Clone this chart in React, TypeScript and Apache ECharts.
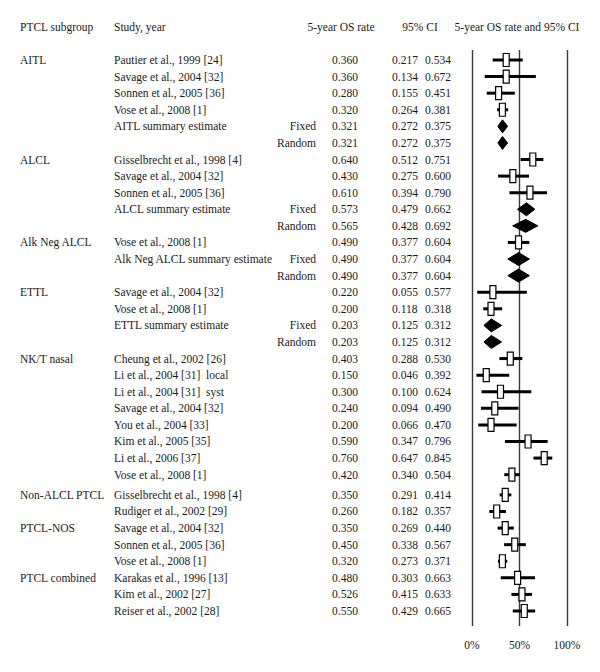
import React, { useEffect, useRef } from "react";
import * as echarts from "echarts";

// ---------- data ----------
const subgroups = [
  "AITL", "", "", "", "", "",
  "ALCL", "", "", "", "",
  "Alk Neg ALCL", "", "",
  "ETTL", "", "", "",
  "NK/T nasal", "", "", "", "", "", "", "",
  "Non-ALCL PTCL", "",
  "PTCL-NOS", "", "",
  "PTCL combined", "", "",
];

const studies = [
  "Pautier et al., 1999 [24]",
  "Savage et al., 2004 [32]",
  "Sonnen et al., 2005 [36]",
  "Vose et al., 2008 [1]",
  "AITL summary estimate",
  "",
  "Gisselbrecht et al., 1998 [4]",
  "Savage et al., 2004 [32]",
  "Sonnen et al., 2005 [36]",
  "ALCL summary estimate",
  "",
  "Vose et al., 2008 [1]",
  "Alk Neg ALCL summary estimate",
  "",
  "Savage et al., 2004 [32]",
  "Vose et al., 2008 [1]",
  "ETTL summary estimate",
  "",
  "Cheung et al., 2002 [26]",
  "Li et al., 2004 [31]\u00a0 local",
  "Li et al., 2004 [31]\u00a0 syst",
  "Savage et al., 2004 [32]",
  "You et al., 2004 [33]",
  "Kim et al., 2005 [35]",
  "Li et al., 2006 [37]",
  "Vose et al., 2008 [1]",
  "Gisselbrecht et al., 1998 [4]",
  "Rudiger et al., 2002 [29]",
  "Savage et al., 2004 [32]",
  "Sonnen et al., 2005 [36]",
  "Vose et al., 2008 [1]",
  "Karakas et al., 1996 [13]",
  "Kim et al., 2002 [27]",
  "Reiser et al., 2002 [28]",
];

const models = [
  "", "", "", "", "Fixed", "Random",
  "", "", "", "Fixed", "Random",
  "", "Fixed", "Random",
  "", "", "Fixed", "Random",
  "", "", "", "", "", "", "", "",
  "", "",
  "", "", "",
  "", "", "",
];

const rates = [
  0.360, 0.360, 0.280, 0.320, 0.321, 0.321,
  0.640, 0.430, 0.610, 0.573, 0.565,
  0.490, 0.490, 0.490,
  0.220, 0.200, 0.203, 0.203,
  0.403, 0.150, 0.300, 0.240, 0.200, 0.590, 0.760, 0.420,
  0.350, 0.260,
  0.350, 0.450, 0.320,
  0.480, 0.526, 0.550,
];

const ciLow = [
  0.217, 0.134, 0.155, 0.264, 0.272, 0.272,
  0.512, 0.275, 0.394, 0.479, 0.428,
  0.377, 0.377, 0.377,
  0.055, 0.118, 0.125, 0.125,
  0.288, 0.046, 0.100, 0.094, 0.066, 0.347, 0.647, 0.340,
  0.291, 0.182,
  0.269, 0.338, 0.273,
  0.303, 0.415, 0.429,
];

const ciHigh = [
  0.534, 0.672, 0.451, 0.381, 0.375, 0.375,
  0.751, 0.600, 0.790, 0.662, 0.692,
  0.604, 0.604, 0.604,
  0.577, 0.318, 0.312, 0.312,
  0.530, 0.392, 0.624, 0.490, 0.470, 0.796, 0.845, 0.504,
  0.414, 0.357,
  0.440, 0.567, 0.371,
  0.663, 0.633, 0.665,
];

const headers = [
  "PTCL subgroup",
  "Study, year",
  "5-year OS rate",
  "95% CI",
  "5-year OS rate and 95% CI",
];

const xTickLabels = ["0%", "50%", "100%"];

// ---------- layout helpers ----------
const GAP_AFTER_ROW = 25;
const GAP_SIZE = 0.22;
const rowPos = studies.map((_, i) => i + (i > GAP_AFTER_ROW ? GAP_SIZE : 0));

const FONT_FAMILY = "'Liberation Serif', 'Times New Roman', serif";
const FONT = `11.5px ${FONT_FAMILY}`;
const TEXT_COLOR = "#1a1a1a";

const fmt = (v: number) => v.toFixed(3);

export default function App() {
  const ref = useRef<HTMLDivElement>(null);

  useEffect(() => {
    if (!ref.current) return;
    const chart = echarts.init(ref.current, undefined, { renderer: "svg" });

    const gridTop = 50;
    const gridHeight = 576;
    const firstRowPx = 60;
    const lastRowPx = 611;
    const lastPos = rowPos[rowPos.length - 1];
    const span = (gridHeight * lastPos) / (lastRowPx - firstRowPx);
    const yMin = -((firstRowPx - gridTop) / gridHeight) * span;
    const yMax = yMin + span;

    const markData = rates.map((r, i) => [
      r,
      rowPos[i],
      ciLow[i],
      ciHigh[i],
      models[i] ? 1 : 0,
    ]);

    const textData = rowPos.map((p) => [0, p]);

    const headerY = 27;

    const option: any = {
      animation: false,
      backgroundColor: "#ffffff",
      grid: { left: 472, top: gridTop, width: 95, height: gridHeight },
      xAxis: {
        type: "value",
        min: 0,
        max: 1,
        interval: 0.5,
        axisLine: { show: false },
        axisTick: { show: false },
        splitLine: { show: true, lineStyle: { color: "#3a3a3a", width: 1.4 } },
        axisLabel: {
          margin: 13,
          fontFamily: FONT_FAMILY,
          fontSize: 11.5,
          color: TEXT_COLOR,
          formatter: (v: number) => xTickLabels[Math.round(v * 2)] ?? "",
        },
      },
      yAxis: {
        type: "value",
        inverse: true,
        min: yMin,
        max: yMax,
        show: false,
        splitLine: { show: false },
      },
      graphic: headers.map((h, i) => {
        const cfg = [
          { x: 20, align: "left" },
          { x: 114, align: "left" },
          { x: 341, align: "center" },
          { x: 420, align: "center" },
          { x: 517, align: "center" },
        ][i];
        return {
          type: "text",
          x: cfg.x,
          y: headerY,
          style: {
            text: h,
            font: FONT,
            fill: TEXT_COLOR,
            align: cfg.align,
            textAlign: cfg.align,
            verticalAlign: "middle",
            textVerticalAlign: "middle",
          },
        };
      }),
      series: [
        {
          type: "custom",
          name: "text",
          data: textData,
          encode: { x: 0, y: 1 },
          silent: true,
          renderItem: (params: any, api: any) => {
            const i = params.dataIndex;
            const y = api.coord([0, api.value(1)])[1];
            const mk = (text: string, x: number, align: string) => ({
              type: "text",
              x,
              y,
              style: {
                text,
                font: FONT,
                fill: TEXT_COLOR,
                align,
                textAlign: align,
                verticalAlign: "middle",
                textVerticalAlign: "middle",
              },
            });
            const children: any[] = [];
            if (subgroups[i]) children.push(mk(subgroups[i], 20, "left"));
            if (studies[i]) children.push(mk(studies[i], 114, "left"));
            if (models[i]) children.push(mk(models[i], 316, "right"));
            children.push(mk(fmt(rates[i]), 332, "left"));
            children.push(mk(fmt(ciLow[i]), 392, "left"));
            children.push(mk(fmt(ciHigh[i]), 425, "left"));
            return { type: "group", children };
          },
        },
        {
          type: "custom",
          name: "forest",
          data: markData,
          encode: { x: 0, y: 1 },
          silent: true,
          renderItem: (params: any, api: any) => {
            const yv = api.value(1);
            const p = api.coord([api.value(0), yv]);
            const lo = api.coord([api.value(2), yv]);
            const hi = api.coord([api.value(3), yv]);
            const summary = api.value(4) === 1;
            if (summary) {
              const h = 6.5;
              return {
                type: "polygon",
                shape: {
                  points: [
                    [lo[0], p[1]],
                    [p[0], p[1] - h],
                    [hi[0], p[1]],
                    [p[0], p[1] + h],
                  ],
                },
                style: { fill: "#000000", stroke: "#000000", lineWidth: 1 },
              };
            }
            return {
              type: "group",
              children: [
                {
                  type: "line",
                  shape: { x1: lo[0], y1: p[1], x2: hi[0], y2: p[1] },
                  style: { stroke: "#000000", lineWidth: 3 },
                },
                {
                  type: "rect",
                  shape: { x: p[0] - 3, y: p[1] - 6.5, width: 6, height: 13 },
                  style: { fill: "#ffffff", stroke: "#000000", lineWidth: 1.2 },
                },
              ],
            };
          },
        },
      ],
    };

    chart.setOption(option);
    return () => chart.dispose();
  }, []);

  return (
    <div
      ref={ref}
      style={{ position: "fixed", left: 0, top: 0, width: 600, height: 672, background: "#fff" }}
    />
  );
}
